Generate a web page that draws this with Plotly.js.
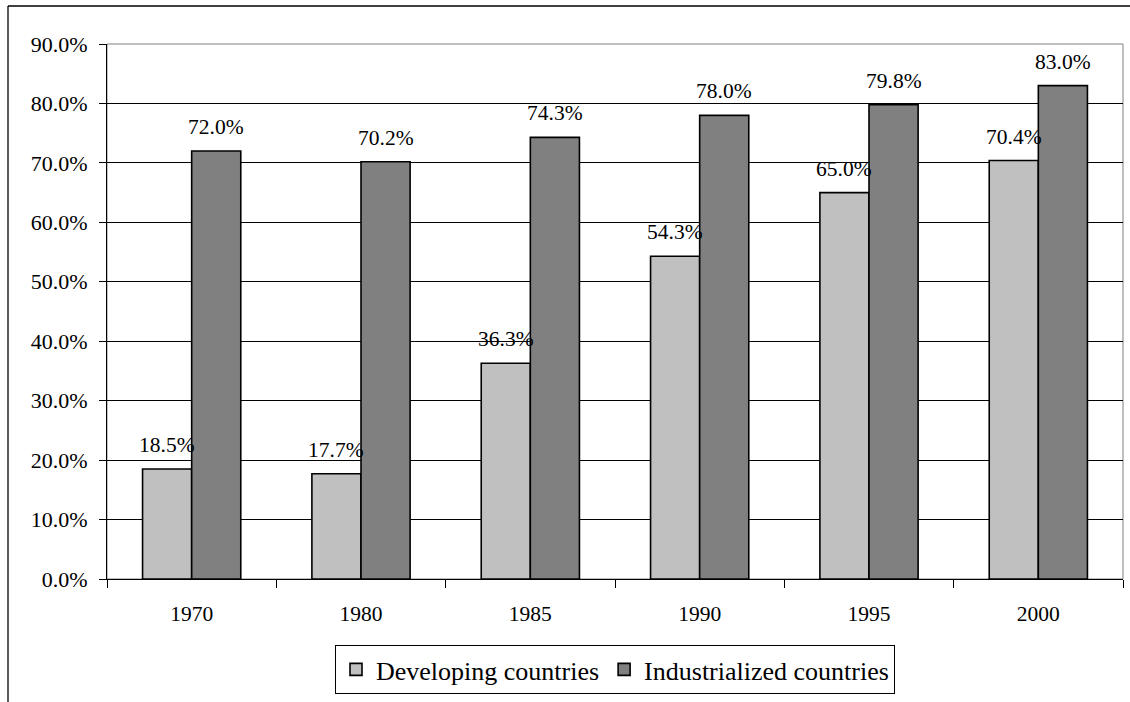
<!DOCTYPE html>
<html>
<head>
<meta charset="utf-8">
<script src="https://cdn.plot.ly/plotly-3.0.1.min.js"></script>
<style>
html,body{margin:0;padding:0;background:#fff;}
#chart{width:1130px;height:702px;}
</style>
</head>
<body>
<div id="chart"></div>
<script>
const years = ['1970', '1980', '1985', '1990', '1995', '2000'];
const developing = [18.5, 17.7, 36.3, 54.3, 65.0, 70.4];
const industrialized = [72.0, 70.2, 74.3, 78.0, 79.8, 83.0];
const seriesNames = ['Developing countries', 'Industrialized countries'];

const FONT = "'Liberation Serif', 'Times New Roman', serif";
const barLine = {color: '#000', width: 1.6};

const traces = [
  {type: 'bar', name: seriesNames[0], x: years, y: developing,
   marker: {color: '#C0C0C0', line: barLine}, hoverinfo: 'none'},
  {type: 'bar', name: seriesNames[1], x: years, y: industrialized,
   marker: {color: '#808080', line: barLine}, hoverinfo: 'none'}
];

// bar width in pixels, used to center labels over each bar
const plotW = 1130 - 107 - 7;
const bargap = 0.42;
const barPx = plotW / years.length * (1 - bargap) / 2;

const annotations = [];
years.forEach((yr, i) => {
  annotations.push({x: i, y: developing[i], xref: 'x', yref: 'y', text: developing[i].toFixed(1) + '%',
    showarrow: false, xanchor: 'center', yanchor: 'bottom', xshift: -barPx / 2, yshift: 10,
    font: {family: FONT, size: 21.5, color: '#000'}});
  annotations.push({x: i, y: industrialized[i], xref: 'x', yref: 'y', text: industrialized[i].toFixed(1) + '%',
    showarrow: false, xanchor: 'center', yanchor: 'bottom', xshift: barPx / 2, yshift: 10,
    font: {family: FONT, size: 21.5, color: '#000'}});
});

const layout = {
  width: 1130, height: 702,
  margin: {l: 107, r: 7, t: 44, b: 123},
  paper_bgcolor: '#fff', plot_bgcolor: '#fff',
  font: {family: FONT, size: 21, color: '#000'},
  barmode: 'group', bargap: bargap, bargroupgap: 0,
  showlegend: true,
  legend: {orientation: 'h', x: 0.5, xanchor: 'center', y: (579 - 694) / 535, yanchor: 'bottom',
    bordercolor: '#000', borderwidth: 1, font: {family: FONT, size: 26, color: '#000'},
    itemclick: false, traceorder: 'normal'},
  xaxis: {type: 'category', range: [-0.5, years.length - 0.5], autorange: false,
    showgrid: false, showline: true, linecolor: '#000', linewidth: 1,
    ticks: 'outside', tickson: 'boundaries', ticklen: 8, tickcolor: '#000', tickwidth: 1,
    ticklabelstandoff: 15, tickfont: {family: FONT, size: 21.5, color: '#000'}, zeroline: false,
    fixedrange: true},
  yaxis: {range: [0, 90], autorange: false, dtick: 10, tick0: 0, tickformat: '.1f', ticksuffix: '%',
    showgrid: true, gridcolor: '#000', gridwidth: 1, showline: true, linecolor: '#000', linewidth: 1,
    ticks: 'outside', ticklen: 7, tickcolor: '#000', ticklabelstandoff: 7,
    tickfont: {family: FONT, size: 22, color: '#000'}, zeroline: false, fixedrange: true},
  annotations: annotations,
  shapes: [
    {type: 'rect', xref: 'paper', yref: 'paper', x0: 0, x1: 1, y0: 0, y1: 1,
     line: {color: '#808080', width: 1}, layer: 'between'},
    {type: 'line', xref: 'paper', yref: 'paper', x0: (8 - 107) / plotW, x1: (1140 - 107) / plotW,
     y0: (579 - 6) / 535, y1: (579 - 6) / 535, line: {color: '#000', width: 1.3}},
    {type: 'line', xref: 'paper', yref: 'paper', x0: (8 - 107) / plotW, x1: (8 - 107) / plotW,
     y0: (579 - 6) / 535, y1: (579 - 710) / 535, line: {color: '#000', width: 1.3}}
  ]
};

Plotly.newPlot('chart', traces, layout, {displayModeBar: false, staticPlot: true});
</script>
</body>
</html>
